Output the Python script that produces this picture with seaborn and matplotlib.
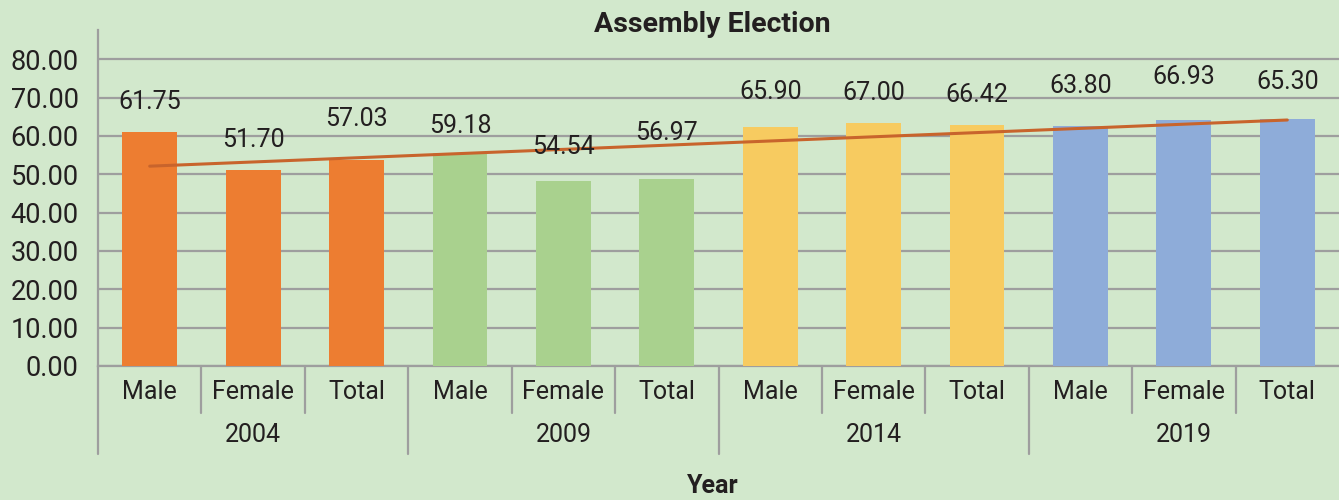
import numpy as np
import pandas as pd
import matplotlib
matplotlib.use("Agg")
import matplotlib.pyplot as plt
import seaborn as sns

# data
years = ["2004", "2009", "2014", "2019"]
genders = ["Male", "Female", "Total"]
bar_heights = [61.0, 51.0, 53.6, 55.5, 48.2, 48.7, 62.3, 63.3, 62.8, 62.5, 64.1, 64.4]
value_labels = ["61.75", "51.70", "57.03", "59.18", "54.54", "56.97",
                "65.90", "67.00", "66.42", "63.80", "66.93", "65.30"]
year_colors = ["#ED7D31", "#A9D18E", "#F7CB60", "#8EACD9"]

bg = "#d2e8cc"
grid_col = "#9e9e9e"
txt_col = "#231f20"

sns.set_theme(style="white")
plt.rcParams['font.family'] = ['Roboto', 'DejaVu Sans']

cats = [f"{y} {g}" for y in years for g in genders]
df = pd.DataFrame({"cat": cats, "value": bar_heights,
                   "year": [y for y in years for g in genders]})

fig = plt.figure(figsize=(13.39, 5.0), dpi=100, facecolor=bg)
ax = fig.add_axes([0.0732, 0.268, 0.9268, 0.672])
ax.set_facecolor(bg)

sns.barplot(data=df, x="cat", y="value", hue="year", palette=year_colors,
            width=0.53, dodge=False, legend=False, saturation=1, linewidth=0,
            ax=ax, zorder=3)

# linear trend line over the bars
sns.regplot(x=np.arange(len(bar_heights)), y=bar_heights, scatter=False, ci=None,
            color="#C8642C", line_kws={"linewidth": 2.2, "zorder": 4}, ax=ax)

# value labels sit a bit above each bar (offsets tweaked by eye)
lift = [7.9, 7.9, 10.8, 7.0, 8.9, 12.0, 9.2, 7.8, 7.8, 10.5, 11.3, 9.7]
for i, (h, lab) in enumerate(zip(bar_heights, value_labels)):
    ax.text(i, h + lift[i], lab, ha="center", va="center", fontsize=18,
            color=txt_col, zorder=5)

ax.set_xlim(-0.5, 11.5)
ax.set_ylim(0, 87.6)
ax.set_yticks(np.arange(0, 81, 10))
ax.set_yticklabels([f"{v:.2f}" for v in np.arange(0, 81, 10)], fontsize=19.5, color=txt_col)
ax.yaxis.grid(True, color=grid_col, linewidth=1.6, zorder=0)
ax.set_axisbelow(True)
ax.tick_params(axis="y", length=0, pad=14)

ax.set_xticks(range(len(cats)))
ax.set_xticklabels(genders * len(years), fontsize=18, color=txt_col)
ax.tick_params(axis="x", length=0, pad=10)
ax.set_xlabel("")
ax.set_ylabel("")

fig.text(0.532, 1 - 25 / 500, "Assembly Election", ha="center", va="center",
         fontsize=20.5, fontweight="bold", color=txt_col)
fig.text(0.5325, 1 - 486 / 500, "Year", ha="center", va="center",
         fontsize=18, fontweight="bold", color=txt_col)

for s in ["top", "right"]:
    ax.spines[s].set_visible(False)
for s in ["left", "bottom"]:
    ax.spines[s].set_color(grid_col)
    ax.spines[s].set_linewidth(1.6)

# two-level category axis: short separators inside a year, long between years
trans = ax.get_xaxis_transform()
for gi, y in enumerate(years):
    start = gi * 3 - 0.5
    ax.plot([start, start], [0, -0.262], transform=trans, clip_on=False,
            color=grid_col, linewidth=1.6)
    for k in (1, 2):
        ax.plot([start + k, start + k], [0, -0.14], transform=trans, clip_on=False,
                color=grid_col, linewidth=1.6)
    ax.text(gi * 3 + 1, -0.205, y, transform=trans, ha="center", va="center",
            fontsize=18, color=txt_col)

plt.savefig("out.png", dpi=100, facecolor=bg)
